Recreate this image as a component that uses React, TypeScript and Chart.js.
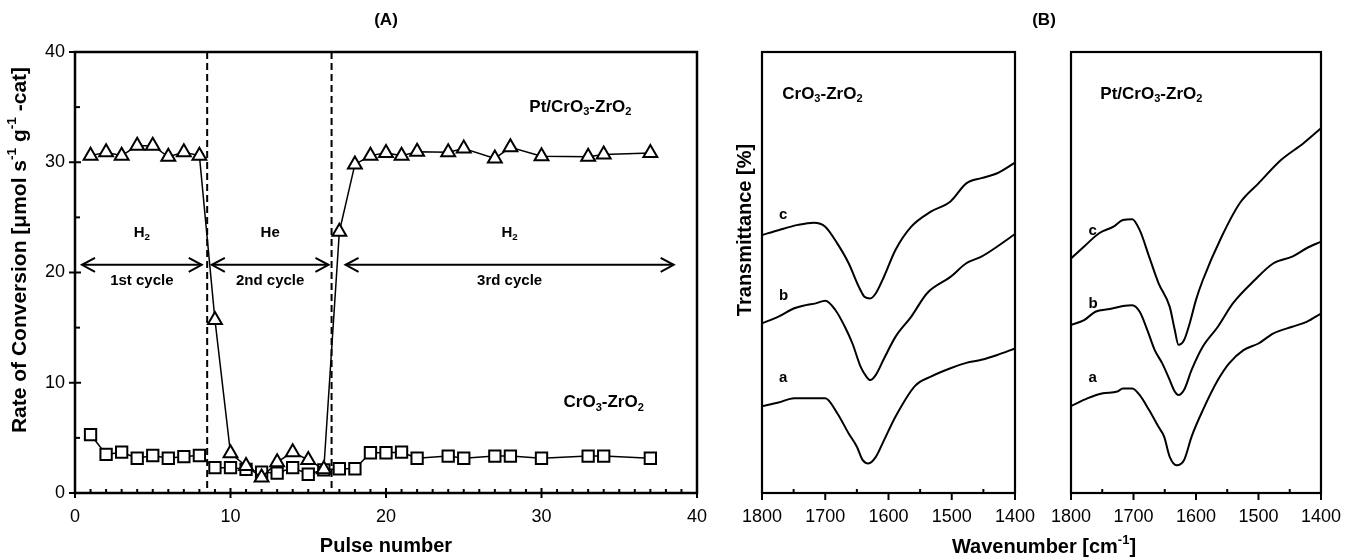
import React, { useEffect, useRef } from "react";
import { Chart, registerables } from "chart.js";

Chart.register(...registerables);

const FONT = '"Liberation Sans", Arial, Helvetica, sans-serif';

// ---------- Panel A data ----------
const pulseNumbers = [1, 2, 3, 4, 5, 6, 7, 8, 9, 10, 11, 12, 13, 14, 15, 16, 17, 18, 19, 20, 21, 22, 24, 25, 27, 28, 30, 33, 34, 37];
const ptCrZrRates = [30.6, 30.9, 30.6, 31.5, 31.5, 30.5, 30.9, 30.6, 15.7, 3.6, 2.45, 1.4, 2.8, 3.7, 3.0, 2.15, 23.7, 29.8, 30.6, 30.85, 30.6, 30.95, 30.9, 31.25, 30.35, 31.35, 30.55, 30.5, 30.7, 30.85];
const crZrRates = [5.3, 3.5, 3.7, 3.15, 3.4, 3.15, 3.3, 3.4, 2.3, 2.3, 2.15, 1.9, 1.8, 2.3, 1.7, 2.1, 2.2, 2.2, 3.65, 3.65, 3.7, 3.15, 3.35, 3.15, 3.35, 3.35, 3.15, 3.35, 3.35, 3.15];
const pulseTicks = [0, 10, 20, 30, 40];
const rateTicks = [0, 10, 20, 30, 40];

const cycleBounds = [8.5, 16.5];
const arrowLevel = 20.7;
const cycleArrows = [[0.45, 8.15], [8.8, 16.3], [17.4, 38.5]];
const gasNames = ["H2", "He", "H2"];
const cycleNames = ["1st cycle", "2nd cycle", "3rd cycle"];
const gasLabelLevel = 23.6;
const cycleLabelLevel = 19.2;
const ptLabelAt = [32.5, 35.0];
const crLabelAt = [34.0, 8.2];

// ---------- Panel B data (wavenumber cm-1, transmittance a.u.) ----------
const crWn_c = [1800, 1774, 1743, 1718, 1700, 1681, 1663, 1647, 1638, 1629, 1620, 1607, 1589, 1564, 1533, 1502, 1477, 1453, 1428, 1400];
const crT_c = [58.5, 59.6, 60.8, 61.3, 60.4, 56.6, 52.1, 46.8, 44.5, 44.1, 45.3, 49.1, 55.1, 60.4, 63.8, 66.1, 70.2, 71.4, 72.5, 74.9];
const crWn_b = [1800, 1774, 1749, 1731, 1715, 1700, 1684, 1669, 1657, 1644, 1635, 1629, 1620, 1607, 1589, 1564, 1539, 1502, 1477, 1453, 1428, 1400];
const crT_b = [38.5, 40.0, 41.9, 42.6, 43.0, 43.6, 41.5, 37.7, 33.9, 28.6, 26.4, 25.6, 26.8, 30.5, 35.4, 40.0, 45.3, 49.0, 52.1, 53.6, 55.9, 58.7];
const crWn_a = [1800, 1774, 1749, 1725, 1700, 1681, 1663, 1650, 1641, 1632, 1620, 1607, 1589, 1558, 1533, 1502, 1477, 1453, 1428, 1400];
const crT_a = [19.7, 20.5, 21.5, 21.5, 21.5, 18.1, 13.5, 10.5, 7.5, 6.7, 8.2, 12.0, 17.3, 24.3, 26.4, 28.3, 29.5, 30.2, 31.3, 32.8];

const ptWn_c = [1800, 1779, 1755, 1732, 1717, 1702, 1690, 1675, 1660, 1642, 1634, 1628, 1619, 1610, 1600, 1589, 1559, 1530, 1500, 1464, 1428, 1400];
const ptT_c = [53.2, 55.9, 58.9, 60.4, 61.9, 62.1, 59.6, 53.6, 47.6, 42.2, 37.0, 33.6, 34.7, 38.5, 43.8, 48.3, 58.1, 65.7, 70.2, 75.5, 79.3, 82.7];
const ptWn_b = [1800, 1779, 1761, 1738, 1717, 1702, 1690, 1678, 1666, 1654, 1642, 1634, 1628, 1619, 1607, 1589, 1565, 1541, 1506, 1476, 1446, 1423, 1400];
const ptT_b = [38.1, 39.2, 41.1, 41.7, 42.4, 42.6, 41.1, 37.0, 32.4, 29.4, 25.6, 23.0, 22.2, 23.4, 27.9, 33.2, 37.7, 43.0, 48.3, 52.1, 53.6, 55.5, 57.0];
const ptWn_a = [1800, 1773, 1749, 1726, 1717, 1702, 1690, 1675, 1660, 1651, 1642, 1631, 1619, 1607, 1589, 1565, 1547, 1524, 1500, 1476, 1446, 1423, 1400];
const ptT_a = [19.7, 21.5, 22.6, 23.0, 23.7, 23.7, 22.2, 18.8, 15.0, 12.8, 8.2, 6.3, 7.5, 12.8, 18.8, 25.6, 29.4, 32.4, 33.9, 36.2, 37.7, 38.8, 40.7];

const curveNames = ["a", "b", "c"];
const crCurveLabelWn = 1773;
const crCurveLabelT = [26, 44.6, 63];
const ptCurveLabelWn = 1772;
const ptCurveLabelT = [26, 43, 59.5];
const crTitleAt = [1768, 90.5];
const ptTitleAt = [1753, 90.5];
const wnTicks = [1800, 1700, 1600, 1500, 1400];

// ---------- rich text helpers ----------
type Run = [string, number]; // 0 normal, 1 subscript, -1 superscript
const crRuns: Run[] = [["CrO", 0], ["3", 1], ["-ZrO", 0], ["2", 1]];
const ptRuns: Run[] = [["Pt/CrO", 0], ["3", 1], ["-ZrO", 0], ["2", 1]];
const h2Runs: Run[] = [["H", 0], ["2", 1]];
const heRuns: Run[] = [["He", 0]];
const yTitleRuns: Run[] = [["Rate of Conversion [\u03BCmol s", 0], ["-1", -1], [" g", 0], ["-1", -1], [" -cat]", 0]];
const wnTitleRuns: Run[] = [["Wavenumber [cm", 0], ["-1", -1], ["]", 0]];

function runFont(size: number, k: number, weight: string) {
  const s = k ? size * 0.65 : size;
  return `${weight} ${s}px ${FONT}`;
}
function richWidth(ctx: CanvasRenderingContext2D, runs: Run[], size: number, weight = "bold") {
  let w = 0;
  for (const [t, k] of runs) {
    ctx.font = runFont(size, k, weight);
    w += ctx.measureText(t).width;
  }
  return w;
}
function drawRich(ctx: CanvasRenderingContext2D, runs: Run[], x: number, y: number, size: number, align: "left" | "center", weight = "bold") {
  const w = richWidth(ctx, runs, size, weight);
  let cx = align === "center" ? x - w / 2 : x;
  ctx.textBaseline = "middle";
  ctx.textAlign = "left";
  ctx.fillStyle = "#000";
  for (const [t, k] of runs) {
    ctx.font = runFont(size, k, weight);
    const dy = k === 1 ? size * 0.3 : k === -1 ? -size * 0.35 : 0;
    ctx.fillText(t, cx, y + dy);
    cx += ctx.measureText(t).width;
  }
}

function line(ctx: CanvasRenderingContext2D, x1: number, y1: number, x2: number, y2: number) {
  ctx.beginPath();
  ctx.moveTo(x1, y1);
  ctx.lineTo(x2, y2);
  ctx.stroke();
}

const plainTick = (v: any) => String(v);

// ---------- Panel A ----------
function makePanelA(canvas: HTMLCanvasElement) {
  const plugin = {
    id: "panelA",
    beforeDatasetsDraw(chart: any) {
      const { ctx, chartArea, scales } = chart;
      const { top, bottom } = chartArea;
      const xs = scales.x, ys = scales.y;
      ctx.save();
      ctx.strokeStyle = "#000";
      ctx.lineWidth = 2;
      ctx.setLineDash([7, 4]);
      cycleBounds.forEach((b) => {
        const px = xs.getPixelForValue(b);
        line(ctx, px, top, px, bottom);
      });
      ctx.setLineDash([]);
      const ay = ys.getPixelForValue(arrowLevel);
      ctx.lineWidth = 2;
      cycleArrows.forEach(([a, b]) => {
        const x1 = xs.getPixelForValue(a), x2 = xs.getPixelForValue(b);
        line(ctx, x1, ay, x2, ay);
        ctx.beginPath();
        ctx.moveTo(x1 + 13, ay - 7); ctx.lineTo(x1, ay); ctx.lineTo(x1 + 13, ay + 7);
        ctx.stroke();
        ctx.beginPath();
        ctx.moveTo(x2 - 13, ay - 7); ctx.lineTo(x2, ay); ctx.lineTo(x2 - 13, ay + 7);
        ctx.stroke();
      });
      cycleArrows.forEach(([a, b], i) => {
        const mid = xs.getPixelForValue((a + b) / 2);
        drawRich(ctx, gasNames[i] === "He" ? heRuns : h2Runs, mid, ys.getPixelForValue(gasLabelLevel), 15, "center");
        drawRich(ctx, [[cycleNames[i], 0]], mid, ys.getPixelForValue(cycleLabelLevel), 15, "center");
      });
      ctx.restore();
    },
    afterDraw(chart: any) {
      const { ctx, chartArea, scales } = chart;
      const { left, right, top, bottom } = chartArea;
      const xs = scales.x, ys = scales.y;
      ctx.save();
      ctx.strokeStyle = "#000";
      ctx.lineWidth = 2.5;
      ctx.strokeRect(left, top, right - left, bottom - top);
      ctx.lineWidth = 2;
      for (let v = 0; v <= 40; v += 1) {
        const px = xs.getPixelForValue(v);
        if (v % 10 === 0) line(ctx, px, bottom - 5, px, bottom + 5);
        else line(ctx, px, bottom - 4, px, bottom);
      }
      for (let v = 0; v <= 40; v += 5) {
        const py = ys.getPixelForValue(v);
        if (v % 10 === 0) line(ctx, left - 6, py, left + 6, py);
        else line(ctx, left, py, left + 5, py);
      }
      drawRich(ctx, ptRuns, xs.getPixelForValue(ptLabelAt[0]), ys.getPixelForValue(ptLabelAt[1]), 17, "center");
      drawRich(ctx, crRuns, xs.getPixelForValue(crLabelAt[0]), ys.getPixelForValue(crLabelAt[1]), 17, "center");
      // y title
      ctx.save();
      ctx.translate(20, 250);
      ctx.rotate(-Math.PI / 2);
      drawRich(ctx, yTitleRuns, 0, 0, 21, "center");
      ctx.restore();
      // panel titles and shared B texts
      drawRich(ctx, [["(A)", 0]], (left + right) / 2, 20, 17, "center");
      drawRich(ctx, [["(B)", 0]], 1044, 20, 17, "center");
      drawRich(ctx, wnTitleRuns, 1044, 547, 20, "center");
      ctx.save();
      ctx.translate(745, 230);
      ctx.rotate(-Math.PI / 2);
      drawRich(ctx, [["Transmittance [%]", 0]], 0, 0, 20, "center");
      ctx.restore();
      ctx.restore();
    },
  };

  return new Chart(canvas, {
    type: "line",
    data: {
      datasets: [
        {
          label: "Pt/CrO3-ZrO2",
          data: pulseNumbers.map((p, i) => ({ x: p, y: ptCrZrRates[i] })),
          borderColor: "#000",
          borderWidth: 1.5,
          pointStyle: "triangle",
          pointRadius: 8,
          pointBorderWidth: 2,
          pointBackgroundColor: "#fff",
          pointBorderColor: "#000",
          tension: 0,
        },
        {
          label: "CrO3-ZrO2",
          data: pulseNumbers.map((p, i) => ({ x: p, y: crZrRates[i] })),
          borderColor: "#000",
          borderWidth: 1.5,
          pointStyle: "rect",
          pointRadius: 8,
          pointBorderWidth: 2,
          pointBackgroundColor: "#fff",
          pointBorderColor: "#000",
          tension: 0,
        },
      ],
    },
    options: {
      animation: false,
      responsive: false,
      devicePixelRatio: 1,
      layout: { padding: { left: 0, top: 52, right: 657, bottom: 0 } },
      plugins: { legend: { display: false }, tooltip: { enabled: false }, title: { display: false } },
      scales: {
        x: {
          type: "linear",
          min: 0,
          max: 40,
          afterBuildTicks: (s: any) => { s.ticks = pulseTicks.map((v) => ({ value: v })); },
          ticks: { color: "#000", font: { size: 18, family: FONT }, padding: 13, maxRotation: 0, callback: plainTick },
          grid: { display: false, drawTicks: false },
          border: { display: false },
          title: { display: true, text: "Pulse number", color: "#000", font: { size: 20, weight: "bold", family: FONT }, padding: { top: 0, bottom: 0 } },
          afterFit: (s: any) => { s.height = 65; },
        },
        y: {
          type: "linear",
          min: 0,
          max: 40,
          afterBuildTicks: (s: any) => { s.ticks = rateTicks.map((v) => ({ value: v })); },
          ticks: { color: "#000", font: { size: 18, family: FONT }, padding: 10, callback: plainTick },
          grid: { display: false, drawTicks: false },
          border: { display: false },
          afterFit: (s: any) => { s.width = 75; },
        },
      },
    },
    plugins: [plugin],
  } as any);
}

// ---------- Panel B ----------
function makePanelB(
  canvas: HTMLCanvasElement,
  curves: { wn: number[]; t: number[] }[],
  titleRuns: Run[],
  titleAt: number[],
  labelWn: number,
  labelT: number[],
  padLeft: number,
  padRight: number
) {
  const plugin = {
    id: "panelB",
    afterDraw(chart: any) {
      const { ctx, chartArea, scales } = chart;
      const { left, right, top, bottom } = chartArea;
      const xs = scales.x, ys = scales.y;
      ctx.save();
      ctx.strokeStyle = "#000";
      ctx.lineWidth = 2.2;
      ctx.strokeRect(left, top, right - left, bottom - top);
      ctx.lineWidth = 2;
      for (let v = 1400; v <= 1800; v += 50) {
        const px = xs.getPixelForValue(v);
        if (v % 100 === 0) line(ctx, px, bottom, px, bottom + 7);
        else line(ctx, px, bottom - 4, px, bottom);
      }
      drawRich(ctx, titleRuns, xs.getPixelForValue(titleAt[0]), ys.getPixelForValue(titleAt[1]), 17, "left");
      curveNames.forEach((n, i) => {
        drawRich(ctx, [[n, 0]], xs.getPixelForValue(labelWn), ys.getPixelForValue(labelT[i]), 15, "left");
      });
      ctx.restore();
    },
  };
  return new Chart(canvas, {
    type: "line",
    data: {
      datasets: curves.map((c, i) => ({
        label: curveNames[i],
        data: c.wn.map((w, j) => ({ x: w, y: c.t[j] })),
        borderColor: "#000",
        borderWidth: 2,
        pointRadius: 0,
        cubicInterpolationMode: "monotone",
      })),
    },
    options: {
      animation: false,
      responsive: false,
      devicePixelRatio: 1,
      layout: { padding: { left: padLeft, top: 52, right: padRight, bottom: 0 } },
      plugins: { legend: { display: false }, tooltip: { enabled: false } },
      scales: {
        x: {
          type: "linear",
          min: 1400,
          max: 1800,
          reverse: true,
          afterBuildTicks: (s: any) => { s.ticks = wnTicks.map((v) => ({ value: v })); },
          ticks: { color: "#000", font: { size: 18, family: FONT }, padding: 13, maxRotation: 0, callback: plainTick },
          grid: { display: false, drawTicks: false },
          border: { display: false },
          afterFit: (s: any) => { s.height = 65; },
        },
        y: { type: "linear", min: 0, max: 100, display: false },
      },
    },
    plugins: [plugin],
  } as any);
}

export default function App() {
  const aRef = useRef<HTMLCanvasElement>(null);
  const bLRef = useRef<HTMLCanvasElement>(null);
  const bRRef = useRef<HTMLCanvasElement>(null);

  useEffect(() => {
    const charts = [
      makePanelA(aRef.current!),
      makePanelB(
        bLRef.current!,
        [{ wn: crWn_a, t: crT_a }, { wn: crWn_b, t: crT_b }, { wn: crWn_c, t: crT_c }],
        crRuns, crTitleAt, crCurveLabelWn, crCurveLabelT, 762, 339
      ),
      makePanelB(
        bRRef.current!,
        [{ wn: ptWn_a, t: ptT_a }, { wn: ptWn_b, t: ptT_b }, { wn: ptWn_c, t: ptT_c }],
        ptRuns, ptTitleAt, ptCurveLabelWn, ptCurveLabelT, 1071, 27
      ),
    ];
    return () => charts.forEach((c) => c.destroy());
  }, []);

  const cs: React.CSSProperties = { position: "absolute", left: 0, top: 0 };
  return (
    <div style={{ position: "fixed", left: 0, top: 0, width: 1354, height: 558, background: "#fff", overflow: "hidden" }}>
      <canvas ref={aRef} width={1354} height={558} style={cs} />
      <canvas ref={bLRef} width={1354} height={558} style={cs} />
      <canvas ref={bRRef} width={1354} height={558} style={cs} />
    </div>
  );
}
